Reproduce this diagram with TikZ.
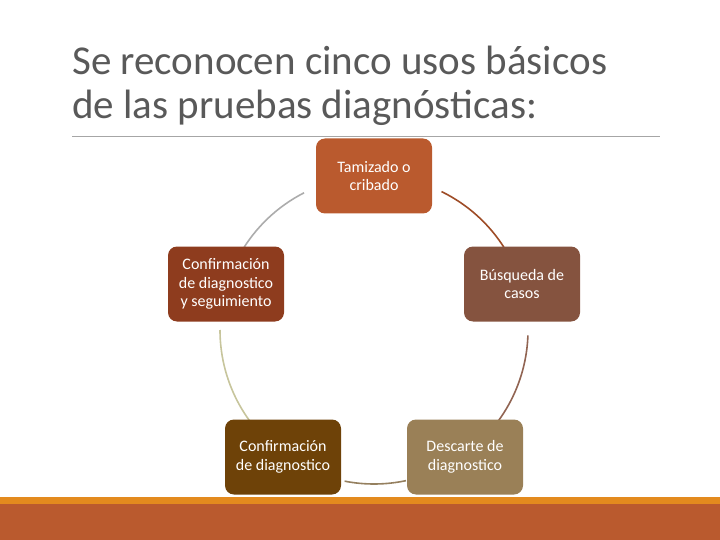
\documentclass[tikz,border=0pt]{standalone}
\usepackage{fontspec}
\setmainfont{Carlito}
\usetikzlibrary{positioning}
\definecolor{tamiz}{HTML}{BA5A2E}
\definecolor{busq}{HTML}{85533F}
\definecolor{desc}{HTML}{9A8057}
\definecolor{confd}{HTML}{6E4208}
\definecolor{confs}{HTML}{8E3C1E}
\definecolor{titlegray}{HTML}{595959}
\definecolor{stripe}{HTML}{E38A1E}
\begin{document}
\begin{tikzpicture}[
    x=1pt, y=-1pt,
    every node/.style={align=center},
    box/.style={rounded corners=9pt, minimum width=116pt, minimum height=75pt, inner sep=2pt, text=white, font=\fontsize{16}{18.5}\selectfont},
    ring/.style={line width=1.6pt}
]
\useasboundingbox (0,0) rectangle (720,540);

% titulo
\node[anchor=north west, align=left, text=titlegray, font=\fontsize{41}{44}\selectfont, inner sep=0pt] (title) at (72,46) {Se reconocen cinco usos básicos\\de las pruebas diagnósticas:};
\coordinate (ll) at (72,136);
\coordinate (lr) at (660,136);
\draw[gray!70, line width=0.7pt] (ll) -- (lr);

% barra inferior
\fill[stripe] (0,497) rectangle (720,504);
\fill[tamiz] (0,504) rectangle (720,540);

% anillo
\coordinate (c) at (374,330);
\draw[ring, tamiz!85!black] (c) ++(-64:154) arc[start angle=-64, end angle=-31, radius=154];
\draw[ring, busq!90] (c) ++(2:154) arc[start angle=2, end angle=38, radius=154];
\draw[ring, desc!80!gray] (c) ++(78:154) arc[start angle=78, end angle=101, radius=154];
\draw[ring, desc!40!yellow!40!gray!60] (c) ++(143:154) arc[start angle=143, end angle=180, radius=154];
\draw[ring, gray!65] (c) ++(-150:154) arc[start angle=-150, end angle=-117, radius=154];

% nodos
\node[box, fill=tamiz] (tam) at (374,176) {Tamizado o\\cribado};
\node[box, fill=busq] (bus) at (522,284) {Búsqueda de\\casos};
\node[box, fill=desc] (des) at (465,457) {Descarte de\\diagnostico};
\node[box, fill=confd] (cod) at (283,457) {Confirmación\\de diagnostico};
\node[box, fill=confs] (cos) at (226,284) {Confirmación\\de diagnostico\\y seguimiento};

\end{tikzpicture}
\end{document}
